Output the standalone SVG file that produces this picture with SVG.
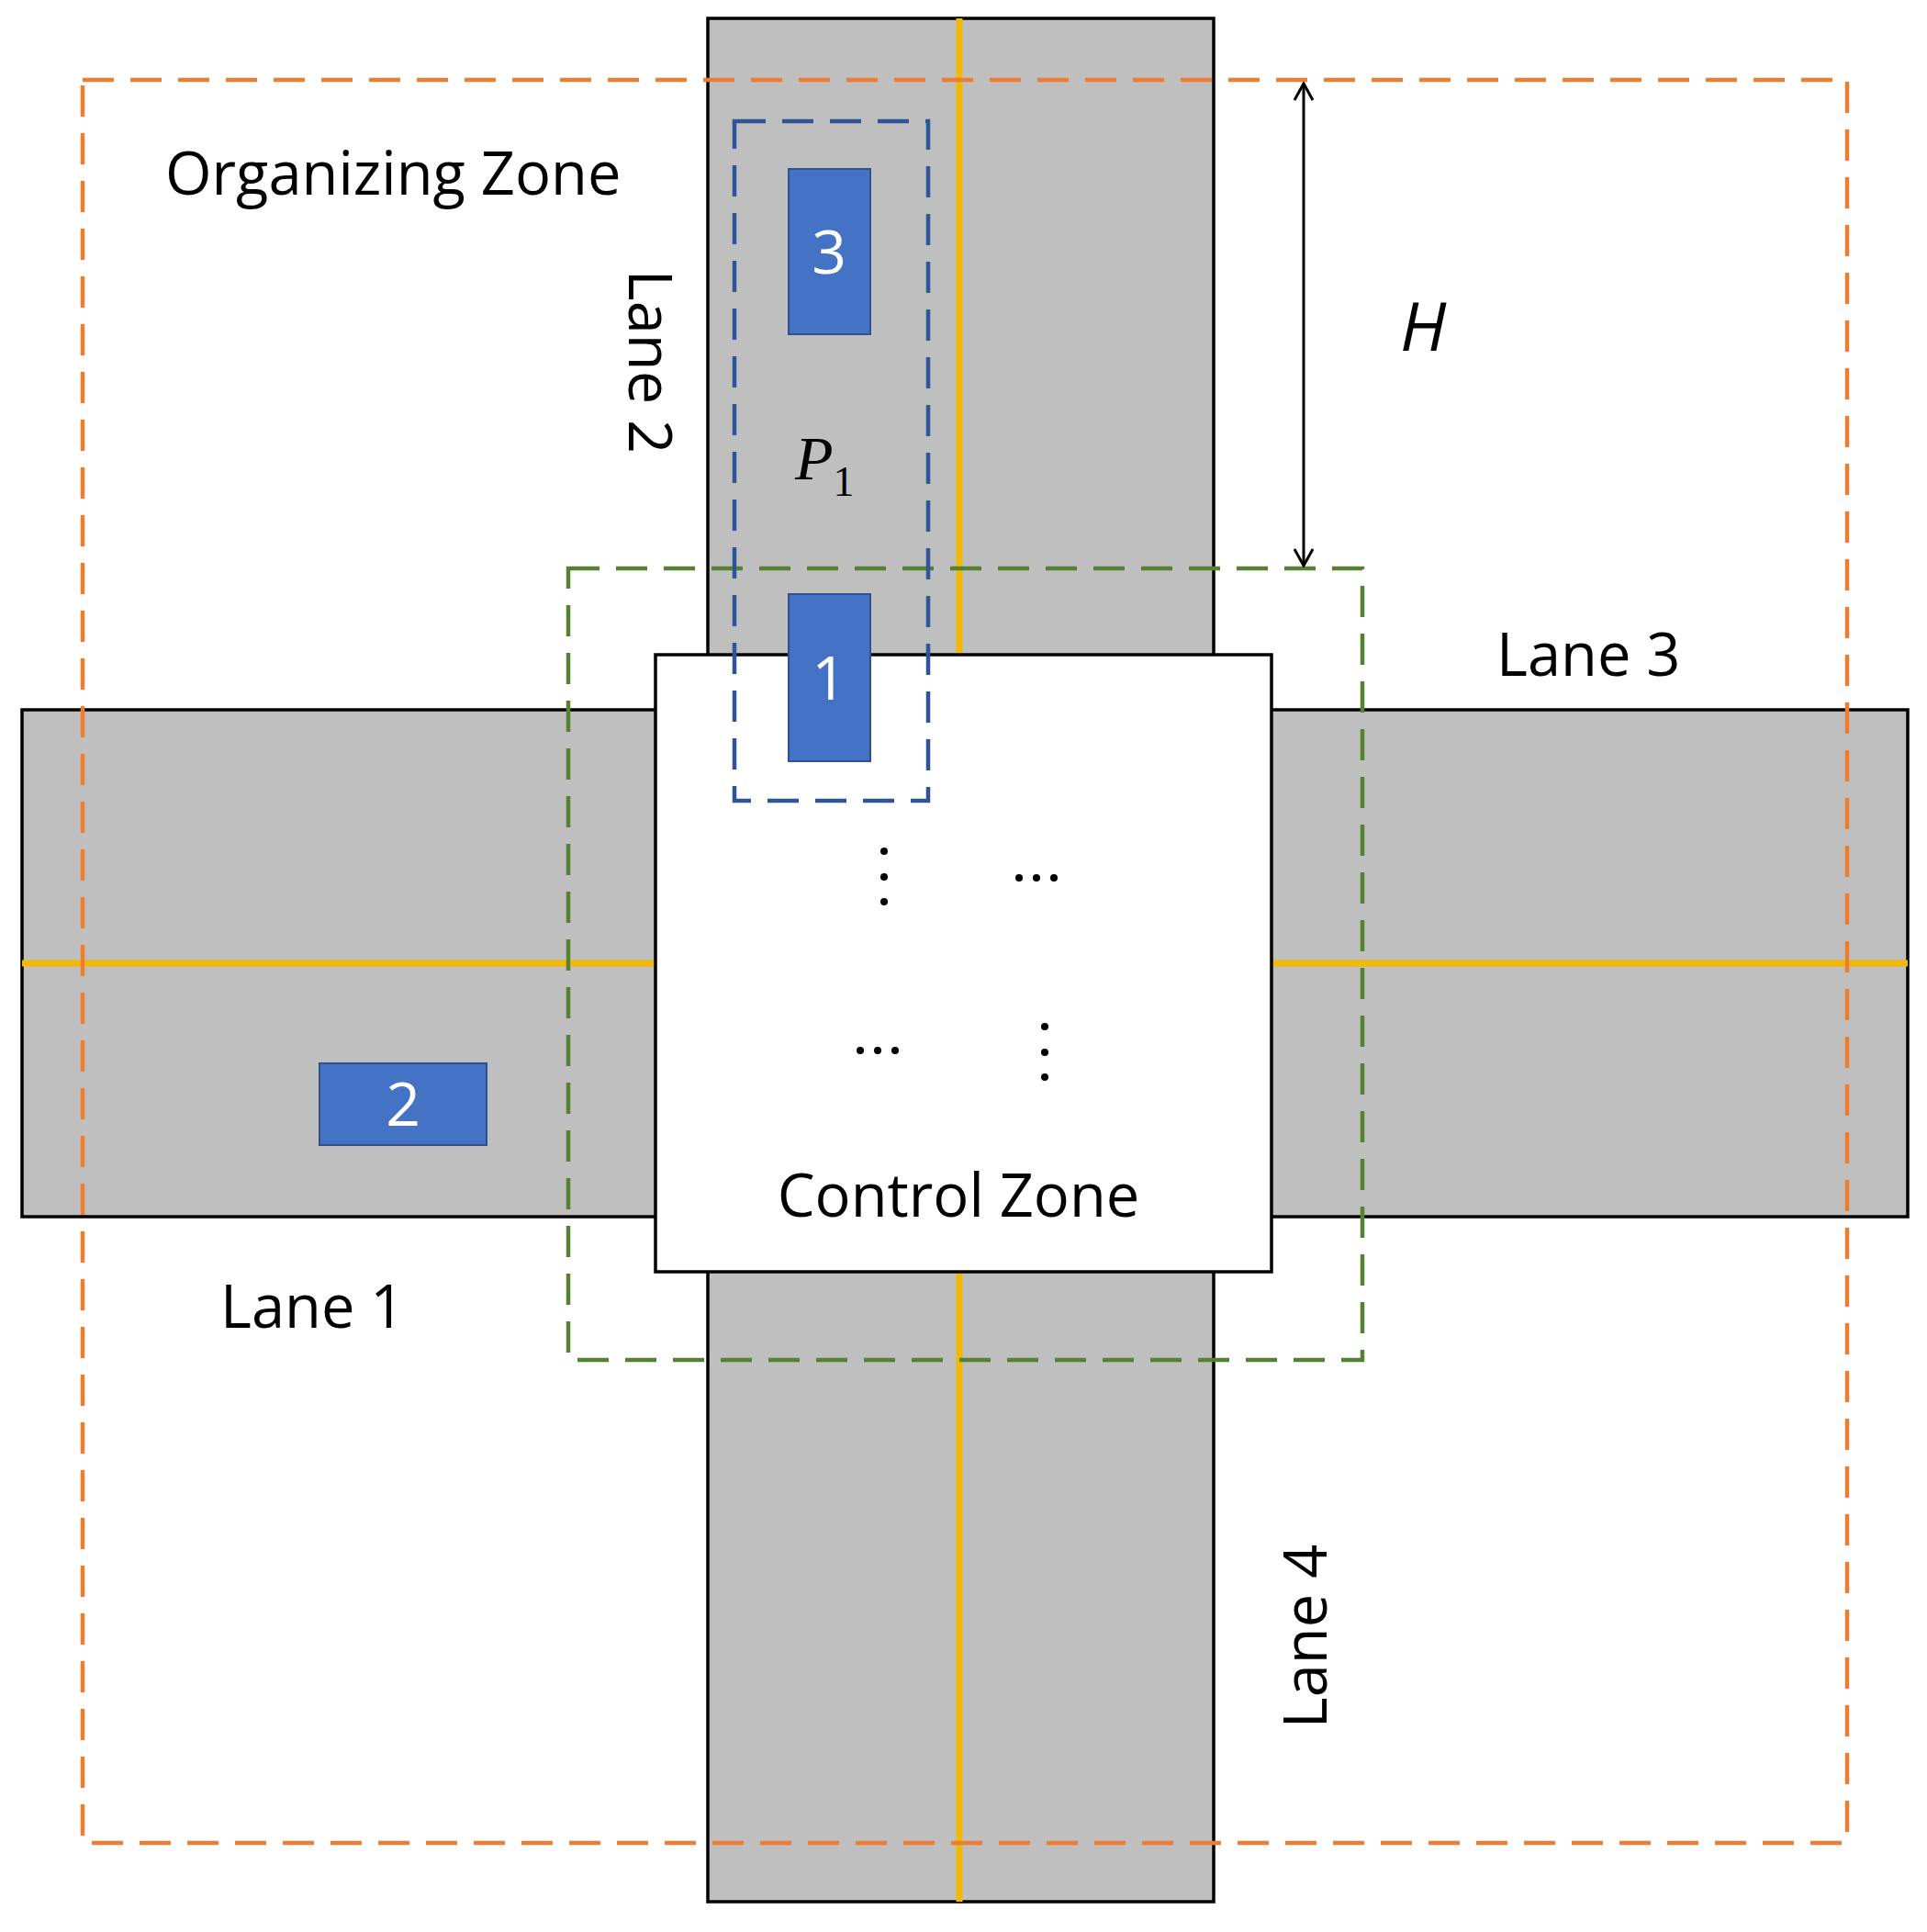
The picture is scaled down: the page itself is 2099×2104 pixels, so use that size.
<svg xmlns="http://www.w3.org/2000/svg" width="2099" height="2104" viewBox="0 0 2099 2104">
<defs>
<style>
.road{fill:#bfbfbf;stroke:#000;stroke-width:3.5}
.yl{stroke:#f5b800;stroke-width:7}
.car{fill:#4472c4;stroke:#2f528f;stroke-width:2}
.ct{font-family:"Open Sans","Liberation Sans",sans-serif;font-size:66px;fill:#fff;text-anchor:middle}
.t{font-family:"Open Sans","Liberation Sans",sans-serif;font-size:65px;fill:#000}
.dot{fill:#000}
</style>
<marker id="ah" viewBox="0 0 22 22" refX="20" refY="11" markerWidth="22" markerHeight="22" orient="auto-start-reverse" markerUnits="userSpaceOnUse"><path d="M2,1 L20,11 L2,21" fill="none" stroke="#000" stroke-width="3"/></marker>
</defs>
<rect width="2099" height="2104" fill="#fff"/>
<g id="roads">
<rect class="road" x="771" y="20" width="551" height="2051"/>
<rect class="road" x="24" y="773" width="2054" height="552"/>
<line class="yl" x1="1045" y1="20" x2="1045" y2="2071"/>
<line class="yl" x1="24" y1="1049" x2="2078" y2="1049"/>
</g>
<g id="control-zone">
<rect x="714" y="713" width="671" height="672" fill="#fff" stroke="#000" stroke-width="3.5"/>
<text class="t" x="1044" y="1325" text-anchor="middle">Control Zone</text>
<circle class="dot" cx="963" cy="927" r="4"/><circle class="dot" cx="963" cy="955" r="4"/><circle class="dot" cx="963" cy="982" r="4"/>
<circle class="dot" cx="1110" cy="956" r="4"/><circle class="dot" cx="1129" cy="956" r="4"/><circle class="dot" cx="1148" cy="956" r="4"/>
<circle class="dot" cx="937" cy="1144" r="4"/><circle class="dot" cx="956" cy="1144" r="4"/><circle class="dot" cx="975" cy="1144" r="4"/>
<circle class="dot" cx="1138" cy="1118" r="4"/><circle class="dot" cx="1138" cy="1146" r="4"/><circle class="dot" cx="1138" cy="1173" r="4"/>
</g>
<g id="zones" fill="none" stroke-width="4.5" stroke-dasharray="34,18">
<rect x="90" y="87" width="1922" height="1920" stroke="#ed7d31"/>
<rect x="619" y="619" width="865" height="862" stroke="#548235"/>
<rect x="800" y="132" width="211" height="740" stroke="#2f5597"/>
</g>
<g id="cars">
<rect class="car" x="859" y="184" width="89" height="180"/><text class="ct" x="903" y="298">3</text>
<rect class="car" x="859" y="647" width="89" height="182"/><text class="ct" x="903" y="762">1</text>
<rect class="car" x="348" y="1158" width="182" height="89"/><text class="ct" x="439" y="1226">2</text>
</g>
<g id="connectors">
<line x1="1420" y1="91" x2="1420" y2="616" stroke="#000" stroke-width="3" marker-start="url(#ah)" marker-end="url(#ah)"/>
</g>
<g id="labels">
<text class="t" x="180" y="212">Organizing Zone</text>
<text class="t" x="1630" y="736">Lane 3</text>
<text class="t" x="240" y="1446">Lane 1</text>
<text class="t" x="0" y="0" text-anchor="middle" transform="translate(685,394) rotate(90)">Lane 2</text>
<text class="t" x="0" y="0" text-anchor="middle" transform="translate(1445,1782) rotate(-90)">Lane 4</text>
<text x="1525" y="382" font-family="Open Sans,Liberation Sans,sans-serif" font-style="italic" font-size="74">H</text>
<text x="866" y="522" font-family="Liberation Serif,serif" font-style="italic" font-size="68">P<tspan font-style="normal" font-size="46" dy="18">1</tspan></text>
</g>
</svg>
